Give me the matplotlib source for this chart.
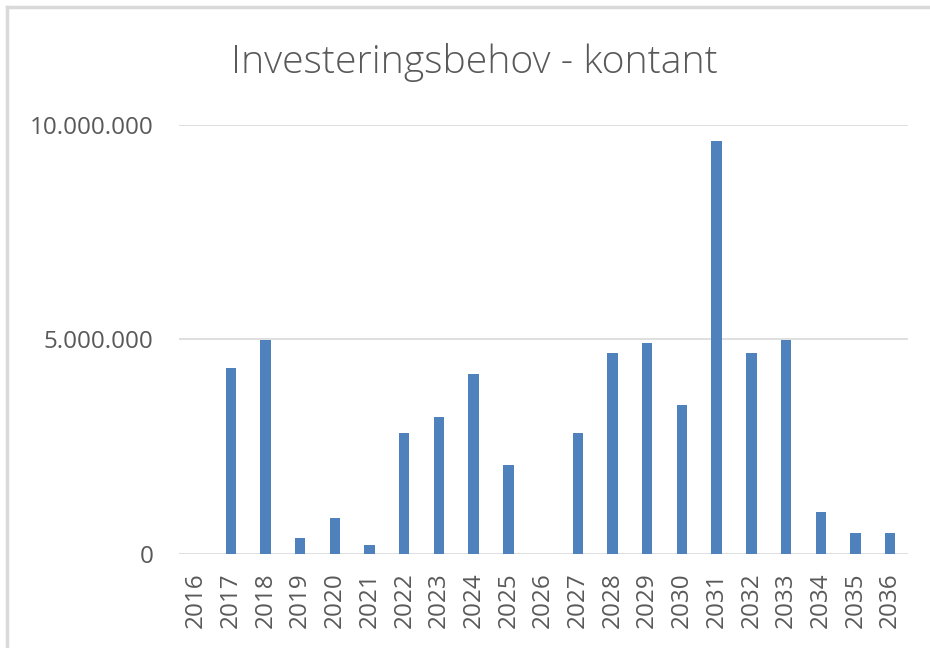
import matplotlib.pyplot as plt
from matplotlib.lines import Line2D
from matplotlib.ticker import FuncFormatter

years = [str(y) for y in range(2016, 2037)]
values = [0, 4330000, 4980000, 370000, 840000, 200000, 2810000, 3200000,
          4190000, 2080000, 0, 2810000, 4690000, 4910000, 3480000, 9610000,
          4690000, 4980000, 980000, 480000, 480000]

title = "Investeringsbehov - kontant"
bar_color = "#4F81BD"
text_color = "#595959"
grid_color = "#D9D9D9"

plt.rcParams['font.family'] = ['Open Sans', 'DejaVu Sans']

fig = plt.figure(figsize=(9.3, 6.48), dpi=100)
ax = fig.add_axes([178.7 / 930, 1 - 554 / 648, (907.5 - 178.7) / 930, (554 - 124.7) / 648])

x = range(len(years))
ax.bar(x, values, width=0.3, color=bar_color, zorder=3)

ax.set_xlim(-0.5, len(years) - 0.5)
ax.set_ylim(0, 10000000)
ax.set_yticks([0, 5000000, 10000000])
ax.yaxis.set_major_formatter(FuncFormatter(lambda v, p: f"{int(v):,}".replace(",", ".")))
ax.set_xticks(list(x))
ax.set_xticklabels(years, rotation=90)

ax.grid(axis='y', color=grid_color, linewidth=1.2, zorder=0)
for s in ax.spines.values():
    s.set_visible(False)
ax.tick_params(axis='both', length=0, labelsize=17.5, colors=text_color)
ax.tick_params(axis='y', pad=18)
ax.tick_params(axis='x', pad=13)

fig.text(474 / 930, 1 - 63 / 648, title, ha='center', va='center',
         fontsize=28.2, fontweight='light', color=text_color)

# outer chart frame (left and top edges visible)
fig.add_artist(Line2D([6.5 / 930, 6.5 / 930], [0, 1 - 6.5 / 648], transform=fig.transFigure,
                      color=grid_color, linewidth=2.5))
fig.add_artist(Line2D([6.5 / 930, 1], [1 - 6.5 / 648, 1 - 6.5 / 648], transform=fig.transFigure,
                      color=grid_color, linewidth=2.5))

fig.savefig("out.png", dpi=100)
